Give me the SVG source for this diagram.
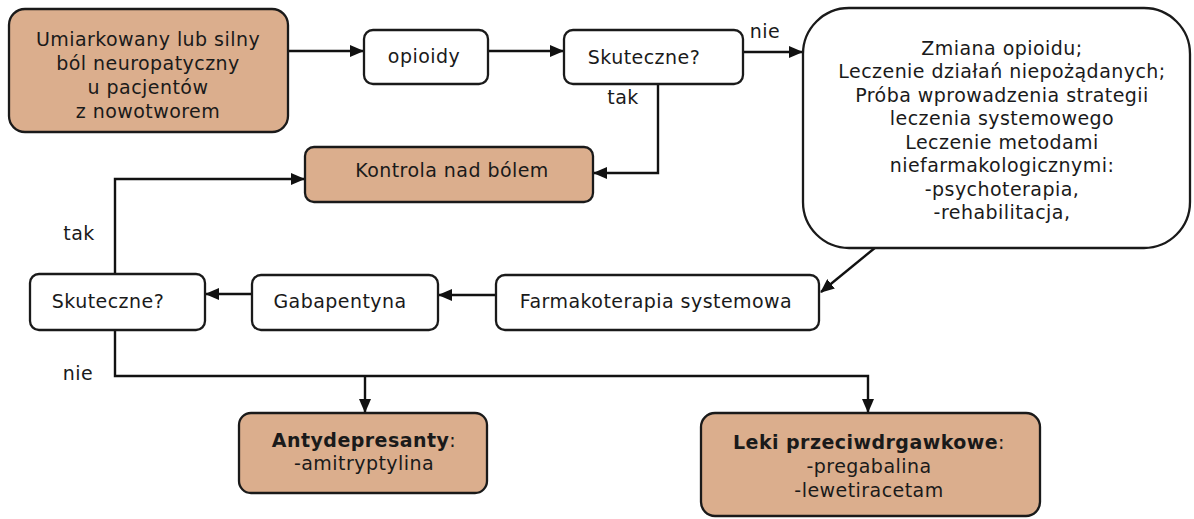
<svg xmlns="http://www.w3.org/2000/svg" width="1194" height="519" viewBox="0 0 1194 519">
<style>
.box{fill:#ffffff;stroke:#1a1a1a;stroke-width:2.3}
.tan{fill:#dbae8d;stroke:#1a1a1a;stroke-width:2.3}
text{font-family:"DejaVu Sans",Verdana,sans-serif;font-size:19px;fill:#1a1a1a;letter-spacing:0.45px}
.c{text-anchor:middle}
.b{font-weight:bold}
.ln{fill:none;stroke:#111;stroke-width:2.4}
</style>
<defs>
<marker id="ah" markerWidth="14" markerHeight="12" refX="13" refY="6" orient="auto" markerUnits="userSpaceOnUse">
<path d="M0,0 L14,6 L0,12 Z" fill="#111"/>
</marker>
</defs>
<rect width="1194" height="519" fill="#ffffff"/>
<g id="connectors">
<line class="ln" x1="288" y1="51" x2="363" y2="51" marker-end="url(#ah)"/>
<line class="ln" x1="488" y1="51" x2="563" y2="51" marker-end="url(#ah)"/>
<line class="ln" x1="743" y1="52" x2="802" y2="52" marker-end="url(#ah)"/>
<polyline class="ln" points="658,84 658,173 594,173" marker-end="url(#ah)"/>
<line class="ln" x1="876" y1="247" x2="821" y2="292" marker-end="url(#ah)"/>
<line class="ln" x1="496" y1="295" x2="439" y2="295" marker-end="url(#ah)"/>
<line class="ln" x1="252" y1="294" x2="206" y2="294" marker-end="url(#ah)"/>
<polyline class="ln" points="115,274 115,179 304,179" marker-end="url(#ah)"/>
<polyline class="ln" points="115,330 115,376 868,376 868,412" marker-end="url(#ah)"/>
<line class="ln" x1="365" y1="376" x2="365" y2="412" marker-end="url(#ah)"/>
<text x="765" y="38" class="c">nie</text>
<text x="623" y="104" class="c">tak</text>
<text x="79" y="240" class="c">tak</text>
<text x="78" y="380" class="c">nie</text>
</g>
<g id="n1">
<rect class="tan" x="9" y="9" width="279" height="123" rx="16"/>
<text class="c" x="148" y="46">Umiarkowany lub silny</text>
<text class="c" x="148" y="70">ból neuropatyczny</text>
<text class="c" x="148" y="94">u pacjentów</text>
<text class="c" x="148" y="118">z nowotworem</text>
</g>
<g id="n2">
<rect class="box" x="364" y="30" width="124" height="54" rx="9"/>
<text class="c" x="424" y="63">opioidy</text>
</g>
<g id="n3">
<rect class="box" x="564" y="30" width="179" height="54" rx="9"/>
<text class="c" x="644" y="64">Skuteczne?</text>
</g>
<g id="n4">
<rect class="box" x="803" y="8" width="387" height="240" rx="46"/>
<text class="c" x="1002" y="55">Zmiana opioidu;</text>
<text class="c" x="1002" y="78">Leczenie działań niepożądanych;</text>
<text class="c" x="1002" y="102">Próba wprowadzenia strategii</text>
<text class="c" x="1002" y="125">leczenia systemowego</text>
<text class="c" x="1002" y="149">Leczenie metodami</text>
<text class="c" x="1002" y="172">niefarmakologicznymi:</text>
<text class="c" x="1002" y="196">-psychoterapia,</text>
<text class="c" x="1002" y="219">-rehabilitacja,</text>
</g>
<g id="n5">
<rect class="tan" x="305" y="147" width="288" height="55" rx="9"/>
<text class="c" x="452" y="177">Kontrola nad bólem</text>
</g>
<g id="n6">
<rect class="box" x="496" y="275" width="323" height="55" rx="9"/>
<text class="c" x="656" y="308">Farmakoterapia systemowa</text>
</g>
<g id="n7">
<rect class="box" x="252" y="275" width="186" height="55" rx="9"/>
<text class="c" x="340" y="308">Gabapentyna</text>
</g>
<g id="n8">
<rect class="box" x="30" y="274" width="175" height="56" rx="9"/>
<text class="c" x="108" y="308">Skuteczne?</text>
</g>
<g id="n9">
<rect class="tan" x="239" y="413" width="248" height="80" rx="12"/>
<text class="c" x="364" y="447"><tspan class="b">Antydepresanty</tspan>:</text>
<text class="c" x="364" y="470">-amitryptylina</text>
</g>
<g id="n10">
<rect class="tan" x="701" y="413" width="339" height="103" rx="14"/>
<text class="c" x="869" y="449"><tspan class="b">Leki przeciwdrgawkowe</tspan>:</text>
<text class="c" x="869" y="473">-pregabalina</text>
<text class="c" x="869" y="497">-lewetiracetam</text>
</g>
</svg>
